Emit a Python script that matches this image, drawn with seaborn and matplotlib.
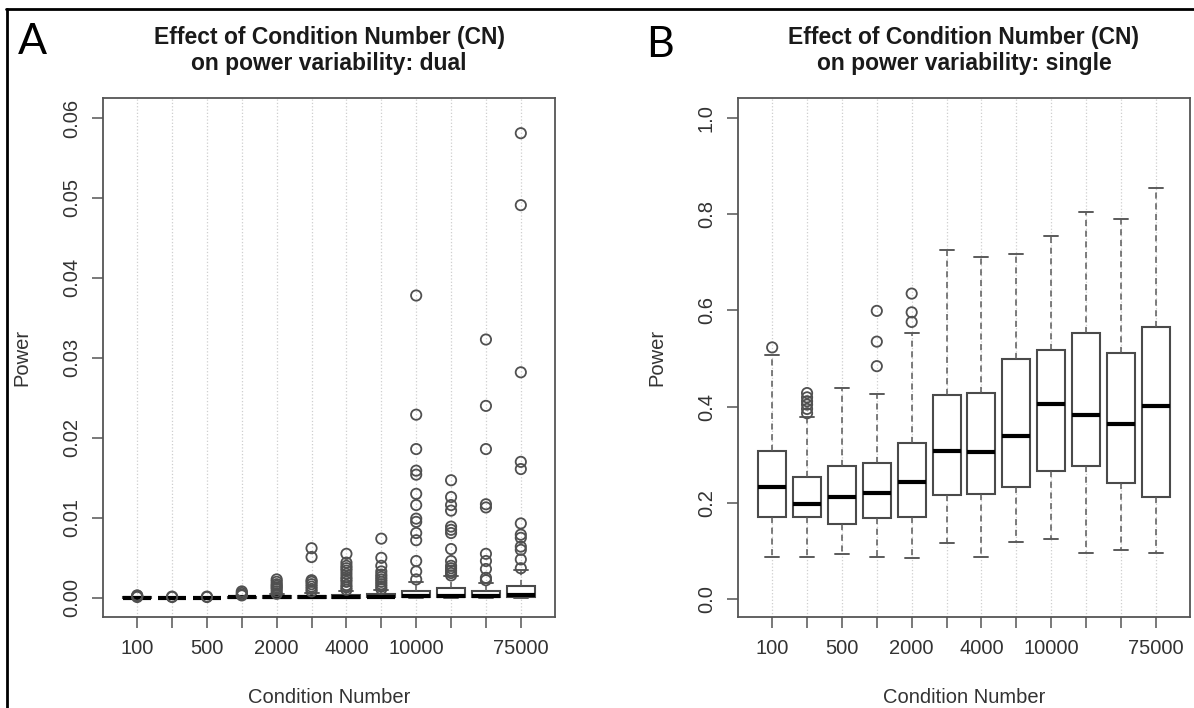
import numpy as np
import pandas as pd
import seaborn as sns
import matplotlib.pyplot as plt
from matplotlib.lines import Line2D

# condition numbers (only some of them get a printed label, R drops the overlapping ones)
cn_values = ['100', '250', '500', '1000', '2000', '3000', '4000', '5000',
             '10000', '25000', '50000', '75000']
cn_shown = ['100', '', '500', '', '2000', '', '4000', '', '10000', '', '', '75000']

# panel A: dual
dual_q1 = [0.00000, 0.00000, 0.00000, 0.00001, 0.00002, 0.00002, 0.00003, 0.00004,
           0.00005, 0.00006, 0.00004, 0.00008]
dual_med = [0.00002, 0.00001, 0.00001, 0.00004, 0.00006, 0.00008, 0.00012, 0.00015,
            0.00020, 0.00028, 0.00020, 0.00030]
dual_q3 = [0.00005, 0.00003, 0.00003, 0.00010, 0.00018, 0.00025, 0.00035, 0.00045,
           0.00090, 0.00120, 0.00080, 0.00145]
dual_lo = [0.0] * 12
dual_hi = [0.00012, 0.00007, 0.00007, 0.00024, 0.00042, 0.00058, 0.00080, 0.00100,
           0.00200, 0.00270, 0.00190, 0.00350]
dual_out = [
    [0.0001, 0.0002, 0.00025, 0.0003],
    [0.0001, 0.00015],
    [0.0001, 0.00015],
    [0.0003, 0.0004, 0.0006, 0.0008],
    [0.0005, 0.0008, 0.0011, 0.0013, 0.0015, 0.0017, 0.0020, 0.0023],
    [0.0008, 0.0011, 0.0014, 0.0017, 0.0020, 0.0022, 0.0051, 0.0062],
    [0.0010, 0.0013, 0.0016, 0.0020, 0.0023, 0.0026, 0.0030, 0.0034, 0.0037, 0.0040,
     0.0044, 0.0055],
    [0.0011, 0.0014, 0.0017, 0.0020, 0.0023, 0.0026, 0.0029, 0.0033, 0.0040, 0.0050,
     0.0074],
    [0.0023, 0.0033, 0.0046, 0.0072, 0.0081, 0.0095, 0.0099, 0.0116, 0.0130, 0.0154,
     0.0159, 0.0186, 0.0229, 0.0378],
    [0.0028, 0.0031, 0.0034, 0.0037, 0.0040, 0.0046, 0.0061, 0.0081, 0.0085, 0.0089,
     0.0109, 0.0116, 0.0126, 0.0147],
    [0.0022, 0.0025, 0.0036, 0.0046, 0.0055, 0.0113, 0.0117, 0.0186, 0.0240, 0.0323],
    [0.0037, 0.0048, 0.0060, 0.0064, 0.0075, 0.0079, 0.0093, 0.0161, 0.0170, 0.0282,
     0.0491, 0.0581],
]

# panel B: single
single_q1 = [0.170, 0.170, 0.156, 0.169, 0.170, 0.215, 0.218, 0.233, 0.265, 0.277, 0.240, 0.212]
single_med = [0.233, 0.198, 0.211, 0.220, 0.243, 0.308, 0.306, 0.338, 0.405, 0.382, 0.364, 0.401]
single_q3 = [0.308, 0.254, 0.277, 0.283, 0.325, 0.423, 0.428, 0.498, 0.517, 0.552, 0.512, 0.566]
single_lo = [0.087, 0.086, 0.094, 0.086, 0.084, 0.117, 0.087, 0.119, 0.124, 0.096, 0.102, 0.096]
single_hi = [0.507, 0.378, 0.439, 0.426, 0.552, 0.725, 0.712, 0.718, 0.754, 0.805, 0.790, 0.855]
single_out = [
    [0.523],
    [0.386, 0.395, 0.404, 0.411, 0.419, 0.428],
    [],
    [0.484, 0.535, 0.599],
    [0.576, 0.596, 0.635],
    [], [], [], [], [], [], [],
]

sns.set_style('white')
plt.rcParams['font.family'] = ['Liberation Sans', 'DejaVu Sans']

FG = '#333333'
EDGE = '#4a4a4a'


def draw_panel(ax, q1, med, q3, lo, hi, outliers, title, yticks, yfmt, ylim):
    pos = np.arange(len(cn_values))
    stats = []
    for i in range(len(cn_values)):
        stats.append({'q1': q1[i], 'med': med[i], 'q3': q3[i],
                      'whislo': lo[i], 'whishi': hi[i], 'fliers': []})
    ax.bxp(stats, positions=pos, widths=0.8, capwidths=0.4, showfliers=False,
           patch_artist=True, manage_ticks=False,
           boxprops=dict(facecolor='white', edgecolor=EDGE, linewidth=1.5),
           medianprops=dict(color='black', linewidth=3, solid_capstyle='butt'),
           whiskerprops=dict(color='#5a5a5a', linewidth=1.1, linestyle=(0, (4, 3))),
           capprops=dict(color='#5a5a5a', linewidth=1.4))

    # outliers drawn as open circles
    out_df = pd.DataFrame({
        'pos': [p for p, vals in zip(pos, outliers) for _ in vals],
        'val': [v for vals in outliers for v in vals],
    })
    sns.scatterplot(data=out_df, x='pos', y='val', ax=ax, marker='o', s=55,
                    facecolor='none', edgecolor='#505050', linewidth=1.3, zorder=5)

    ax.set_xlim(-0.98, 11.98)
    ax.set_ylim(*ylim)
    ax.set_xticks(pos)
    ax.set_xticklabels(cn_shown)
    ax.set_yticks(yticks)
    ax.set_yticklabels([yfmt.format(t) for t in yticks], rotation=90, va='center')
    ax.grid(axis='x', linestyle=':', color='#cfcfcf', linewidth=0.9)
    ax.grid(axis='y', visible=False)
    ax.set_axisbelow(True)
    ax.tick_params(axis='both', direction='out', length=8, width=1.1, color='#555555',
                   labelsize=14.5, labelcolor=FG, pad=8, bottom=True, left=True)
    for sp in ax.spines.values():
        sp.set_color('#555555')
        sp.set_linewidth(1.3)

    ax.set_xlabel('Condition Number', fontsize=14.5, color=FG)
    ax.set_ylabel('Power', fontsize=14.5, color=FG)
    ax.xaxis.set_label_coords(0.5, -0.156)
    ax.xaxis.label.set_va('center')
    ax.yaxis.set_label_coords(-0.179, 0.5)
    ax.yaxis.label.set_va('center')

    ax.text(0.5, 1.0916, title, transform=ax.transAxes, ha='center', va='center',
            fontsize=16.5, fontweight='bold', color='#1a1a1a', linespacing=1.15)


fig = plt.figure(figsize=(11.94, 7.08), dpi=100)
ax_a = fig.add_axes([103 / 1194, 91 / 708, 452 / 1194, 519 / 708])
ax_b = fig.add_axes([738 / 1194, 91 / 708, 452 / 1194, 519 / 708])

draw_panel(ax_a, dual_q1, dual_med, dual_q3, dual_lo, dual_hi, dual_out,
           'Effect of Condition Number (CN)\non power variability: dual',
           [0, 0.01, 0.02, 0.03, 0.04, 0.05, 0.06], '{:.2f}', (-0.0024, 0.0625))
draw_panel(ax_b, single_q1, single_med, single_q3, single_lo, single_hi, single_out,
           'Effect of Condition Number (CN)\non power variability: single',
           [0, 0.2, 0.4, 0.6, 0.8, 1.0], '{:.1f}', (-0.038, 1.042))

# panel letters
fig.text(32 / 1194, 1 - 42 / 708, 'A', fontsize=31, family=['Lato', 'DejaVu Sans'],
         ha='center', va='center', color='black')
fig.text(660 / 1194, 1 - 45 / 708, 'B', fontsize=31, family=['Lato', 'DejaVu Sans'],
         ha='center', va='center', color='black')

# frame lines of the composite figure (top and left)
fig.add_artist(Line2D([6 / 1194, 1], [1 - 9 / 708, 1 - 9 / 708],
                      transform=fig.transFigure, color='black', linewidth=2))
fig.add_artist(Line2D([7 / 1194, 7 / 1194], [0, 1 - 9 / 708],
                      transform=fig.transFigure, color='black', linewidth=2))

fig.savefig('out.png', dpi=100)
